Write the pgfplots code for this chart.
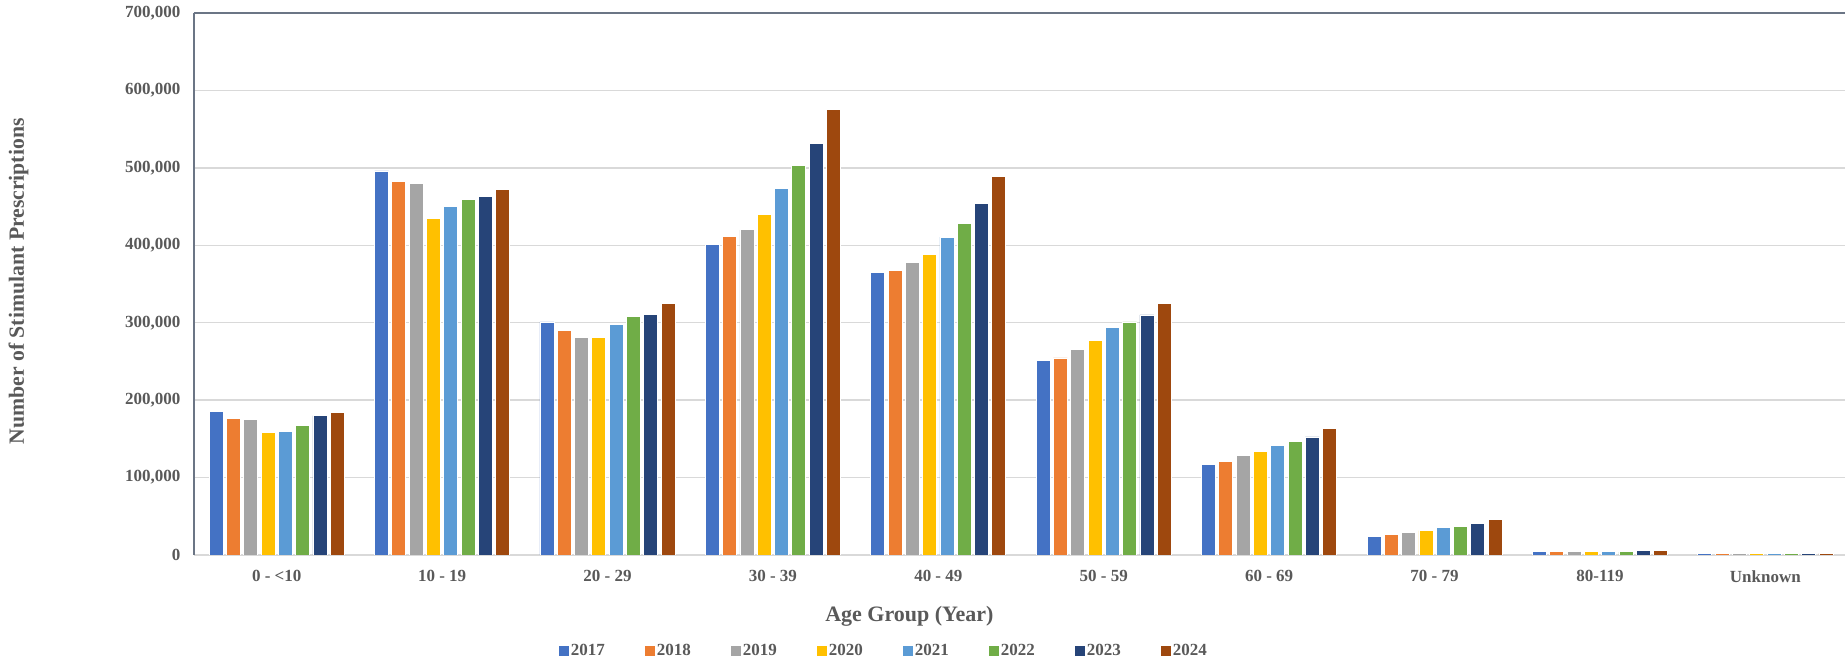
\documentclass[border=0pt]{standalone}
\usepackage{fontspec}
\setmainfont{Liberation Serif}
\usepackage{pgfplots}
\usepackage{pgfplotstable}
\pgfplotsset{compat=1.18}
\definecolor{cA}{HTML}{4472C4}
\definecolor{cB}{HTML}{ED7D31}
\definecolor{cC}{HTML}{A5A5A5}
\definecolor{cD}{HTML}{FFC000}
\definecolor{cE}{HTML}{5B9BD5}
\definecolor{cF}{HTML}{70AD47}
\definecolor{cG}{HTML}{264478}
\definecolor{cH}{HTML}{9E480E}
\definecolor{txt}{HTML}{595959}
\definecolor{gridc}{HTML}{D9D9D9}
\definecolor{axc}{HTML}{6B7585}
\pgfplotstableread{
x y2017 y2018 y2019 y2020 y2021 y2022 y2023 y2024
0 185000 176600 174500 158000 159400 167000 180000 183900
1 496000 483000 480000 434700 449700 459000 462600 472000
2 301000 289700 280600 280600 297400 308000 310800 325000
3 401500 411000 420000 440000 473800 503500 531500 576000
4 364500 368000 377400 388000 410600 427800 453500 488600
5 251000 254500 265600 277000 294000 301000 310000 324600
6 117300 121000 128400 134000 141000 147000 152500 163700
7 24000 26000 29500 31600 35500 37300 41000 46300
8 4100 4100 4000 4000 4000 4000 5800 5800
9 2000 2000 2000 2000 2000 2000 2000 2000
}\datatable
\begin{document}
\begin{tikzpicture}
\path[use as bounding box] (0,0) rectangle (1845pt,663pt);
\begin{axis}[
  at={(194pt,108pt)}, anchor=south west,
  scale only axis,
  width=1654pt, height=542pt,
  ybar=3.3pt, bar width=14pt,
  xmin=-0.5, xmax=9.5,
  ymin=0, ymax=700000,
  xtick=data,
  xticklabels={0 - <10,10 - 19,20 - 29,30 - 39,40 - 49,50 - 59,60 - 69,70 - 79,80-119,Unknown},
  ytick={0,100000,200000,300000,400000,500000,600000,700000},
  scaled y ticks=false,
  yticklabel style={/pgf/number format/fixed,/pgf/number format/1000 sep={,},/pgf/number format/assume math mode=true, xshift=-10pt},
  ticklabel style={font=\fontsize{17}{20}\selectfont\bfseries, text=txt},
  major tick length=0pt,
  ymajorgrids, grid style={gridc, line width=1.4pt},
  axis lines*=left,
  x axis line style={draw=gridc, line width=1.4pt},
  y axis line style={draw=axc, line width=1.6pt},
  extra y ticks={700000}, extra y tick labels={},
  extra y tick style={grid style={axc, line width=1.6pt}},
  xticklabel style={yshift=-12pt},
  xlabel={Age Group (Year)},
  xlabel style={at={(axis description cs:0.4325,-0.113)}, anchor=center, font=\fontsize{22}{26}\selectfont\bfseries, text=txt},
  ylabel={Number of Stimulant Prescriptions},
  ylabel style={at={(axis description cs:-0.106,0.505)}, anchor=center, font=\fontsize{21.7}{26}\selectfont\bfseries, text=txt},
  legend columns=8,
  legend style={at={(axis description cs:0.417,-0.177)}, anchor=center, draw=none, fill=none,
    font=\fontsize{17}{20}\selectfont\bfseries, text=txt,
    /tikz/every even column/.append style={column sep=38pt}},
  legend image code/.code={\fill[#1,draw=none] (0pt,-5pt) rectangle (10pt,5pt);},
  every axis plot/.append style={draw=white, line width=0.8pt},
]
\addplot[fill=cA] table[x=x,y=y2017]{\datatable};
\addplot[fill=cB] table[x=x,y=y2018]{\datatable};
\addplot[fill=cC] table[x=x,y=y2019]{\datatable};
\addplot[fill=cD] table[x=x,y=y2020]{\datatable};
\addplot[fill=cE] table[x=x,y=y2021]{\datatable};
\addplot[fill=cF] table[x=x,y=y2022]{\datatable};
\addplot[fill=cG] table[x=x,y=y2023]{\datatable};
\addplot[fill=cH] table[x=x,y=y2024]{\datatable};
\legend{2017,2018,2019,2020,2021,2022,2023,2024}
\end{axis}
\end{tikzpicture}
\end{document}
